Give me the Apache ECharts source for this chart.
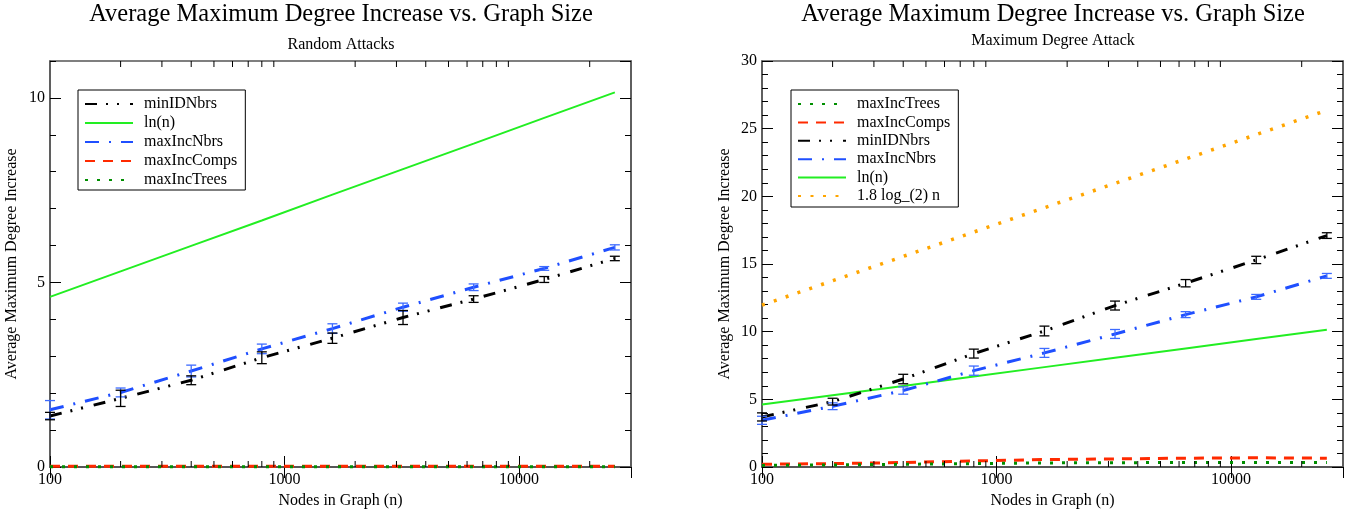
<!DOCTYPE html>
<html>
<head>
<meta charset="utf-8">
<script src="https://cdn.jsdelivr.net/npm/echarts@6/dist/echarts.min.js"></script>
<style>
  html, body { margin: 0; padding: 0; background: #fff; }
  #chart { width: 1361px; height: 510px; }
</style>
</head>
<body>
<div id="chart"></div>
<script>
// graph sizes (x)
const sizes = [100, 200, 400, 800, 1600, 3200, 6400, 12800, 25600];
const xMinorTicks = [200, 300, 400, 500, 600, 700, 800, 900, 2000, 3000, 4000, 5000, 6000, 7000, 8000, 9000, 20000];

// Random Attacks
const randMinIDNbrs = [1.38, 1.86, 2.35, 2.96, 3.49, 4.05, 4.55, 5.08, 5.65];
const randMinIDNbrsErr = [0.10, 0.22, 0.12, 0.16, 0.14, 0.19, 0.09, 0.08, 0.06];
const randMaxIncNbrs = [1.55, 2.02, 2.60, 3.20, 3.75, 4.33, 4.87, 5.38, 5.95];
const randMaxIncNbrsErr = [0.25, 0.12, 0.16, 0.13, 0.13, 0.11, 0.09, 0.05, 0.07];
const randMaxIncComps = [0.02, 0.02, 0.02, 0.02, 0.02, 0.02, 0.02, 0.02, 0.02];
const randMaxIncTrees = [0.01, 0.01, 0.01, 0.01, 0.01, 0.01, 0.01, 0.01, 0.01];
const lnN = [4.61, 5.30, 5.99, 6.68, 7.38, 8.07, 8.76, 9.46, 10.15];

// Maximum Degree Attack
const degMinIDNbrs = [3.70, 4.83, 6.50, 8.38, 10.05, 11.93, 13.58, 15.30, 17.10];
const degMinIDNbrsErr = [0.30, 0.25, 0.35, 0.33, 0.36, 0.33, 0.27, 0.27, 0.21];
const degMaxIncNbrs = [3.45, 4.49, 5.65, 7.12, 8.43, 9.83, 11.26, 12.57, 14.12];
const degMaxIncNbrsErr = [0.30, 0.25, 0.27, 0.34, 0.33, 0.33, 0.22, 0.18, 0.18];
const degMaxIncComps = [0.20, 0.25, 0.33, 0.45, 0.55, 0.60, 0.65, 0.68, 0.65];
const degMaxIncTrees = [0.12, 0.15, 0.20, 0.25, 0.30, 0.32, 0.33, 0.33, 0.33];
const log2Bound = [11.96, 13.76, 15.56, 17.36, 19.16, 20.96, 22.76, 24.56, 26.36];

const FONT = 'Liberation Serif';
const BLACK = '#000000';
const BLUE = '#1f4fff';
const GREEN = '#22ee22';
const DKGREEN = '#008f00';
const RED = '#ff2a00';
const ORANGE = '#ffa500';

const styles = {
  'minIDNbrs':      { color: BLACK,   width: 3,   type: [12, 9, 2, 9, 2, 11] },
  'ln(n)':          { color: GREEN,   width: 2,   type: 'solid' },
  'maxIncNbrs':     { color: BLUE,    width: 3,   type: [14, 10, 2, 10] },
  'maxIncComps':    { color: RED,     width: 3,   type: [10, 8] },
  'maxIncTrees':    { color: DKGREEN, width: 3,   type: [3, 9] },
  '1.8 log_(2) n':  { color: ORANGE,  width: 3.5, type: [3, 9.5] }
};

const pairs = (ys) => sizes.map((n, i) => [n, ys[i]]);
const errPairs = (ys, es) => sizes.map((n, i) => [n, ys[i] - es[i], ys[i] + es[i]]);

function lineSeries(name, ys, g) {
  const s = styles[name];
  return {
    name, type: 'line', xAxisIndex: g * 2, yAxisIndex: g * 4,
    data: pairs(ys), symbol: 'none', showSymbol: false, silent: true, clip: false,
    lineStyle: { color: s.color, width: s.width, type: s.type },
    itemStyle: { color: s.color },
    z: 3
  };
}

function errSeries(name, ys, es, color, g) {
  return {
    name, type: 'custom', xAxisIndex: g * 2, yAxisIndex: g * 4,
    data: errPairs(ys, es), encode: { x: 0, y: [1, 2] }, silent: true, clip: false, z: 4,
    renderItem: (params, api) => {
      const x = api.value(0);
      const lo = api.coord([x, api.value(1)]);
      const hi = api.coord([x, api.value(2)]);
      const w = 5;
      const st = { stroke: color, lineWidth: 1.3 };
      return { type: 'group', children: [
        { type: 'line', shape: { x1: lo[0], y1: lo[1], x2: hi[0], y2: hi[1] }, style: st },
        { type: 'line', shape: { x1: lo[0] - w, y1: lo[1], x2: lo[0] + w, y2: lo[1] }, style: st },
        { type: 'line', shape: { x1: hi[0] - w, y1: hi[1], x2: hi[0] + w, y2: hi[1] }, style: st }
      ] };
    }
  };
}

// minor ticks of the log x axis, top and bottom, placed through the axis scale
function minorTickSeries(g) {
  return {
    type: 'custom', xAxisIndex: g * 2, yAxisIndex: g * 4, silent: true, clip: false, z: 5,
    data: xMinorTicks.map(v => [v, 0]), encode: { x: 0, y: 1 },
    renderItem: (params, api) => {
      const p = api.coord([api.value(0), 0]);
      const cs = params.coordSys;
      const st = { stroke: '#000', lineWidth: 1 };
      const b = cs.y + cs.height;
      return { type: 'group', children: [
        { type: 'line', shape: { x1: p[0], y1: b, x2: p[0], y2: b - 6 }, style: st },
        { type: 'line', shape: { x1: p[0], y1: cs.y, x2: p[0], y2: cs.y + 6 }, style: st }
      ] };
    }
  };
}

const grids = [
  { left: 50, top: 61, width: 581, height: 406 },
  { left: 762, top: 61, width: 581, height: 406 }
];
const yMax = [11, 30];

const xAxes = [];
const yAxes = [];
grids.forEach((gr, g) => {
  const axLine = { show: true, lineStyle: { color: '#555', width: 1.5 } };
  xAxes.push({
    gridIndex: g, type: 'log', logBase: 10, min: 100, max: 30000, position: 'bottom',
    name: 'Nodes in Graph (n)', nameLocation: 'middle', nameGap: 22,
    nameTextStyle: { fontFamily: FONT, fontSize: 16, color: '#000' },
    axisLine: axLine,
    axisTick: { inside: true, length: 11, lineStyle: { color: '#000' } },
    axisLabel: { fontFamily: FONT, fontSize: 16, color: '#000', margin: 5, showMaxLabel: false,
      formatter: v => String(Math.round(v)) },
    splitLine: { show: false }
  });
  xAxes.push({
    gridIndex: g, type: 'log', logBase: 10, min: 100, max: 30000, position: 'top',
    axisLine: axLine,
    axisTick: { inside: true, length: 11, lineStyle: { color: '#000' } },
    axisLabel: { show: false }, splitLine: { show: false }
  });
  ['left', 'right'].forEach(pos => {
    yAxes.push({
      gridIndex: g, type: 'value', min: 0, max: yMax[g], interval: 5, position: pos,
      name: pos === 'left' ? 'Average Maximum Degree Increase' : '',
      nameLocation: 'middle', nameGap: g === 0 ? 30 : 29,
      nameTextStyle: { fontFamily: FONT, fontSize: 16, color: '#000' },
      axisLine: axLine,
      axisTick: { inside: true, length: 11, lineStyle: { color: '#000' } },
      axisLabel: { show: pos === 'left', fontFamily: FONT, fontSize: 16, color: '#000', margin: 5,
        showMaxLabel: yMax[g] % 5 === 0 },
      splitLine: { show: false }
    });
    yAxes.push({
      gridIndex: g, type: 'value', min: 0, max: yMax[g], interval: 1, position: pos,
      axisLine: { show: false },
      axisTick: { inside: true, length: 6, lineStyle: { color: '#000' } },
      axisLabel: { show: false }, splitLine: { show: false }
    });
  });
});

const series = [
  // Random Attacks
  lineSeries('ln(n)', lnN, 0),
  lineSeries('maxIncComps', randMaxIncComps, 0),
  lineSeries('maxIncTrees', randMaxIncTrees, 0),
  lineSeries('maxIncNbrs', randMaxIncNbrs, 0),
  lineSeries('minIDNbrs', randMinIDNbrs, 0),
  errSeries('err rand maxIncNbrs', randMaxIncNbrs, randMaxIncNbrsErr, '#3d6bff', 0),
  errSeries('err rand minIDNbrs', randMinIDNbrs, randMinIDNbrsErr, '#000', 0),
  minorTickSeries(0),
  // Maximum Degree Attack
  lineSeries('1.8 log_(2) n', log2Bound, 1),
  lineSeries('ln(n)', lnN, 1),
  lineSeries('maxIncComps', degMaxIncComps, 1),
  lineSeries('maxIncTrees', degMaxIncTrees, 1),
  lineSeries('maxIncNbrs', degMaxIncNbrs, 1),
  lineSeries('minIDNbrs', degMinIDNbrs, 1),
  errSeries('err deg maxIncNbrs', degMaxIncNbrs, degMaxIncNbrsErr, '#3d6bff', 1),
  errSeries('err deg minIDNbrs', degMinIDNbrs, degMinIDNbrsErr, '#000', 1),
  minorTickSeries(1)
];

const legendBase = {
  orient: 'vertical', selectedMode: false, backgroundColor: '#fff',
  borderColor: '#000', borderWidth: 1,
  itemWidth: 48, itemHeight: 14,
  itemStyle: { opacity: 0 },
  textStyle: { fontFamily: FONT, fontSize: 16, color: '#000', lineHeight: 16, padding: [0, 0, 0, 6] },
  z: 10
};

const chart = echarts.init(document.getElementById('chart'), null, { renderer: 'canvas' });
chart.setOption({
  animation: false,
  backgroundColor: '#fff',
  textStyle: { fontFamily: FONT },
  title: [
    { text: 'Average Maximum Degree Increase vs. Graph Size', left: 341, top: 2, textAlign: 'center', padding: 0,
      textStyle: { fontFamily: FONT, fontSize: 24.5, fontWeight: 'normal', color: '#000' } },
    { text: 'Random Attacks', left: 341, top: 37, textAlign: 'center', padding: 0,
      textStyle: { fontFamily: FONT, fontSize: 16, fontWeight: 'normal', color: '#000' } },
    { text: 'Average Maximum Degree Increase vs. Graph Size', left: 1053, top: 2, textAlign: 'center', padding: 0,
      textStyle: { fontFamily: FONT, fontSize: 24.5, fontWeight: 'normal', color: '#000' } },
    { text: 'Maximum Degree Attack', left: 1053, top: 33, textAlign: 'center', padding: 0,
      textStyle: { fontFamily: FONT, fontSize: 16, fontWeight: 'normal', color: '#000' } }
  ],
  legend: [
    Object.assign({}, legendBase, { left: 78, top: 90, itemGap: 3, padding: [6, 8, 2, 6],
      data: ['minIDNbrs', 'ln(n)', 'maxIncNbrs', 'maxIncComps', 'maxIncTrees'] }),
    Object.assign({}, legendBase, { left: 791, top: 90, itemGap: 2.4, padding: [6, 8, 3, 6],
      data: ['maxIncTrees', 'maxIncComps', 'minIDNbrs', 'maxIncNbrs', 'ln(n)', '1.8 log_(2) n'] })
  ],
  grid: grids.map(gr => Object.assign({ show: true, borderColor: '#555', borderWidth: 1.5,
    backgroundColor: '#fff', containLabel: false, outerBoundsMode: 'none' }, gr)),
  xAxis: xAxes,
  yAxis: yAxes,
  series
});
</script>
</body>
</html>
